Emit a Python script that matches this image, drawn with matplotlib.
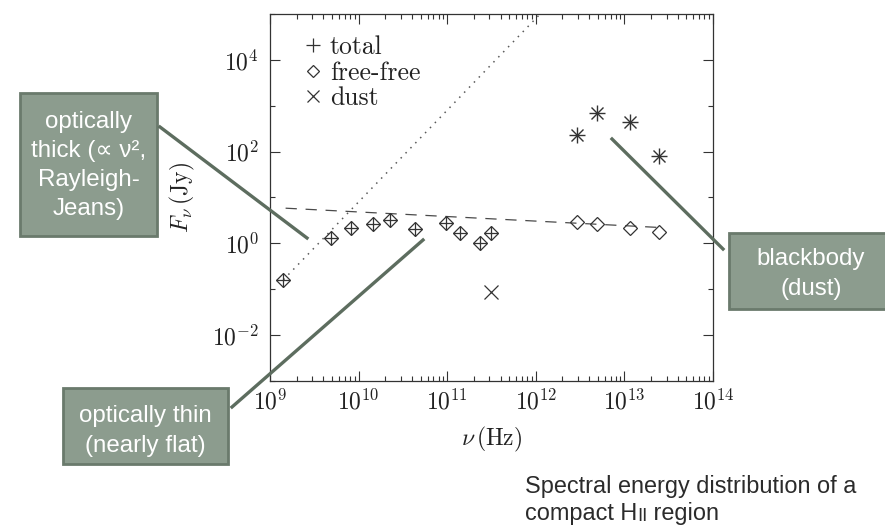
import math
import matplotlib
matplotlib.use("Agg")
import matplotlib.pyplot as plt
from matplotlib.lines import Line2D
from matplotlib.patches import Rectangle
from matplotlib.ticker import FixedLocator, FuncFormatter, LogLocator, NullFormatter

plt.rcParams['mathtext.fontset'] = 'cm'

# ---------------- data ----------------
nu_radio = [1.42e9, 4.9e9, 8.2e9, 1.44e10, 2.26e10, 4.3e10, 9.6e10, 1.41e11, 2.35e11, 3.15e11]
F_radio_total = [0.16, 1.27, 2.1, 2.6, 3.2, 2.05, 2.8, 1.67, 1.03, 1.7]
F_radio_ff = [0.16, 1.27, 2.1, 2.6, 3.2, 2.05, 2.8, 1.67, 1.03, 1.7]

nu_ir = [2.9e12, 4.85e12, 1.17e13, 2.45e13]
F_ir_total = [234, 692, 447, 81]
F_ir_dust = [234, 692, 447, 81]
F_ir_ff = [2.86, 2.68, 2.15, 1.76]

nu_dust_mm = [3.1e11]
F_dust_mm = [0.085]

# model lines (end points)
thick_nu = [1.42e9, 2.0e12]
thick_F = [0.16, 3.2e5]
thin_nu = [1.5e9, 2.5e13]
thin_F = [5.8, 2.2]

legend_labels = ['total', 'free-free', 'dust']
x_major = [1e9, 1e10, 1e11, 1e12, 1e13, 1e14]
y_major = [1e-2, 1e0, 1e2, 1e4]
y_minor = [1e-3, 1e-1, 1e1, 1e3, 1e5]

# ---------------- figure ----------------
W, H = 885, 526
fig = plt.figure(figsize=(W / 100, H / 100), dpi=100)
ax = fig.add_axes([270 / W, 1 - 380.7 / H, (713 - 270) / W, (380.7 - 14) / H])

mc = '#333333'
ax.plot(thick_nu, thick_F, linestyle=(0, (1, 3.6)), color='#5a5a5a', lw=1.1)
ax.plot(thin_nu, thin_F, linestyle=(0, (9, 7)), color='#4a4a4a', lw=0.9)

ax.plot(nu_radio, F_radio_ff, 'D', ms=7, mfc='none', mec=mc, mew=0.9, ls='none')
ax.plot(nu_radio, F_radio_total, '+', ms=10, mec=mc, mew=0.9, ls='none')
ax.plot(nu_ir, F_ir_ff, 'D', ms=7, mfc='none', mec=mc, mew=0.9, ls='none')
ax.plot(nu_ir, F_ir_total, '+', ms=11, mec=mc, mew=1.0, ls='none')
ax.plot(nu_ir, F_ir_dust, 'x', ms=8, mec=mc, mew=1.0, ls='none')
ax.plot(nu_dust_mm, F_dust_mm, 'x', ms=10, mec=mc, mew=0.9, ls='none')

ax.set_xscale('log')
ax.set_yscale('log')
ax.set_xlim(1e9, 1e14)
ax.set_ylim(1e-3, 1e5)

ax.xaxis.set_major_locator(FixedLocator(x_major))
ax.xaxis.set_minor_locator(LogLocator(base=10, subs=range(2, 10), numticks=50))
ax.xaxis.set_minor_formatter(NullFormatter())
ax.yaxis.set_major_locator(FixedLocator(y_major))
ax.yaxis.set_minor_locator(FixedLocator(y_minor))
ax.yaxis.set_minor_formatter(NullFormatter())


def fmt(v, pos):
    e = int(round(math.log10(v)))
    return r'$\mathrm{10}^{%d}$' % e if e >= 0 else r'$\mathrm{10}^{-%d}$' % (-e)


ax.xaxis.set_major_formatter(FuncFormatter(fmt))
ax.yaxis.set_major_formatter(FuncFormatter(fmt))

for s in ax.spines.values():
    s.set_color('#333333')
    s.set_linewidth(0.9)
ax.tick_params(which='both', direction='in', top=True, right=True, colors='#333333', width=0.8)
ax.tick_params(which='major', length=7, labelsize=17, labelcolor='#222222')
ax.tick_params(which='minor', length=3.5)
ax.tick_params(axis='x', which='major', pad=6)
ax.tick_params(axis='y', which='major', pad=8)

ax.set_xlabel(r'$\nu\,\mathrm{(Hz)}$', fontsize=17, color='#222222', labelpad=8)
ax.set_ylabel(r'$F_\nu\,\mathrm{(Jy)}$', fontsize=17, color='#222222', labelpad=11)

handles = [
    Line2D([], [], marker='+', ls='none', ms=10, mec=mc, mew=0.9),
    Line2D([], [], marker='D', ls='none', ms=6.5, mfc='none', mec=mc, mew=0.9),
    Line2D([], [], marker='x', ls='none', ms=9, mec=mc, mew=0.9),
]
ax.legend(handles, legend_labels, loc='upper left', bbox_to_anchor=(32.5 / 443, 0.941),
          frameon=False, prop={'family': 'cmr10', 'size': 18.5}, labelcolor='#222222',
          handlelength=0.78, handletextpad=0.29, labelspacing=0.07,
          borderpad=0, borderaxespad=0)

# ---------------- annotation boxes ----------------
fill = '#8c9c8e'
edge = '#6a7a6c'
linec = '#5d6d5f'
box_font = ['Liberation Sans', 'DejaVu Sans']


def px(x, y):
    return x / W, 1 - y / H


def box(x0, y0, x1, y1, text, dy=0):
    fx0, fy1 = px(x0, y0)
    fx1, fy0 = px(x1, y1)
    fig.patches.append(Rectangle((fx0, fy0), fx1 - fx0, fy1 - fy0, transform=fig.transFigure,
                                 facecolor=fill, edgecolor=edge, lw=2, zorder=5))
    cx, cy = px((x0 + x1) / 2, (y0 + y1) / 2 + dy)
    fig.text(cx, cy, text, ha='center', va='center', color='white', fontsize=17.4,
             family=box_font, zorder=6, linespacing=1.43)


def connector(x0, y0, x1, y1):
    a = px(x0, y0)
    b = px(x1, y1)
    fig.add_artist(Line2D([a[0], b[0]], [a[1], b[1]], transform=fig.transFigure,
                          color=linec, lw=2.4, zorder=7))


box(20, 93, 157, 236, 'optically\nthick (\u221d \u03bd\u00b2,\nRayleigh-\nJeans)', dy=1)
box(729, 233, 893, 309, 'blackbody\n(dust)', dy=3)
box(63, 388, 228, 464, 'optically thin\n(nearly flat)', dy=5)

connector(160, 127, 307, 238)
connector(232, 407, 423, 240)
connector(612, 139, 723, 249)

# ---------------- caption ----------------
cap_font = ['Liberation Sans', 'DejaVu Sans']
cc = '#2b2b2b'
cap_size = 16.9
l1 = fig.text(856 / W, 1 - 493 / H, 'Spectral energy distribution of a', fontsize=cap_size,
              family=cap_font, color=cc, va='baseline', ha='right')
renderer = fig.canvas.get_renderer()
bb = l1.get_window_extent(renderer)
x_left = bb.x0 / W
t1 = fig.text(x_left, 1 - 520 / H, 'compact H', fontsize=cap_size, family=cap_font,
              color=cc, va='baseline')
t2 = ax.annotate('II', xy=(1, 0), xycoords=t1, va='bottom', ha='left', fontsize=13.2,
                 family=cap_font, color=cc, annotation_clip=False)
ax.annotate(' region', xy=(1, 0), xycoords=t2, va='bottom', ha='left', fontsize=cap_size,
            family=cap_font, color=cc, annotation_clip=False)

fig.savefig('out.png', dpi=100)
